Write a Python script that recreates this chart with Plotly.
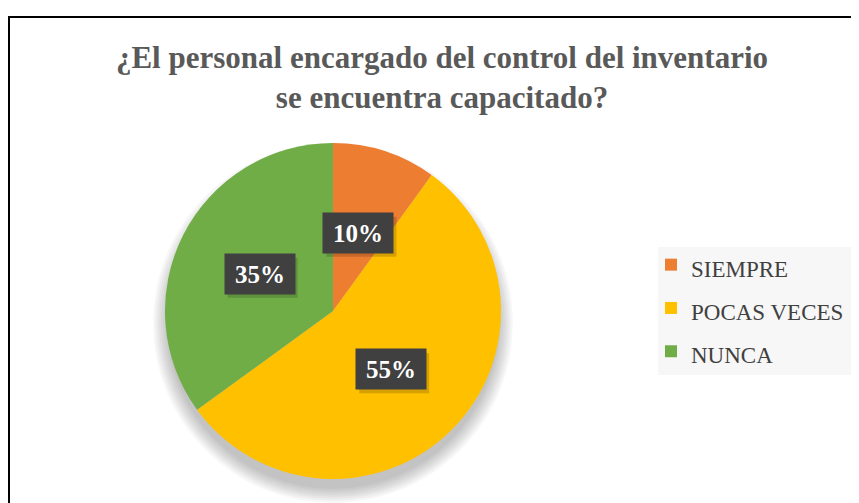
import math
import plotly.graph_objects as go

categories = ["SIEMPRE", "POCAS VECES", "NUNCA"]
values = [10, 55, 35]
colors = ["#ED7D31", "#FFC000", "#70AD47"]
title_lines = ["¿El personal encargado del control del inventario", "se encuentra capacitado?"]

SW, SH = 859, 503          # screenshot size
OFF = 8                    # page body margin
W, H = SW - OFF, SH - OFF  # figure size
cx, cy, R = 333, 311, 168  # pie centre / radius in screen pixels
SERIF = "Liberation Serif, Times New Roman, serif"


def px(x):
    return (x - OFF) / W


def py(y):
    return 1 - (y - OFF) / H


fig = go.Figure()
fig.add_trace(go.Pie(
    labels=[f'<span style="font-size:23px">{c}</span>' for c in categories],
    values=values,
    marker=dict(colors=colors, line=dict(width=0)),
    sort=False,
    direction="clockwise",
    rotation=0,
    textinfo="none",
    hoverinfo="label+percent",
    domain=dict(x=[px(cx - R), px(cx + R)], y=[py(cy + R), py(cy - R)]),
))

shapes = []
# soft shadow under the pie (mostly below)
for extra in range(16, 0, -2):
    r = R - 4 + extra
    oy = 12
    shapes.append(dict(type="circle", xref="paper", yref="paper", layer="below",
                       x0=px(cx - r), x1=px(cx + r), y0=py(cy + oy + r), y1=py(cy + oy - r),
                       fillcolor="rgba(0,0,0,0.03)", line=dict(width=0)))
# legend background box
shapes.append(dict(type="rect", xref="paper", yref="paper", layer="below",
                   x0=px(658), x1=px(857), y0=py(375), y1=py(247),
                   fillcolor="#F7F7F7", line=dict(width=0)))
# outer frame
shapes.append(dict(type="rect", xref="paper", yref="paper", layer="above",
                   x0=px(9), x1=1.05, y0=-0.05, y1=py(17),
                   line=dict(color="#000000", width=2), fillcolor="rgba(0,0,0,0)"))

annotations = []
total = sum(values)
cum = 0
rl = 0.49
bw, bh = 70, 40
for v in values:
    mid = (cum + v / 2) / total * 2 * math.pi
    cum += v
    lx = cx + rl * R * math.sin(mid)
    ly = cy - rl * R * math.cos(mid)
    txt = f"{round(v / total * 100)}%"
    # label shadow
    shapes.append(dict(type="rect", xref="paper", yref="paper", layer="above",
                       x0=px(lx - bw / 2 + 3), x1=px(lx + bw / 2 + 3),
                       y0=py(ly + bh / 2 + 4), y1=py(ly - bh / 2 + 4),
                       fillcolor="rgba(0,0,0,0.16)", line=dict(width=0)))
    annotations.append(dict(x=px(lx), y=py(ly), xref="paper", yref="paper",
                            xanchor="center", yanchor="middle",
                            text=f"<b>{txt}</b>", showarrow=False, width=bw - 10, height=bh - 10,
                            font=dict(family=SERIF, size=25, color="#FFFFFF"),
                            bgcolor="#404040", borderpad=5))

fig.update_layout(
    width=W, height=H,
    margin=dict(l=0, r=0, t=0, b=0),
    paper_bgcolor="#FFFFFF",
    plot_bgcolor="#FFFFFF",
    title=dict(text="<b>" + "<br>".join(title_lines) + "</b>",
               x=px(442), xanchor="center", y=py(68), yanchor="top",
               font=dict(family=SERIF, size=31, color="#595959")),
    showlegend=True,
    legend=dict(x=px(651), xanchor="left", y=py(238), yanchor="top",
                bgcolor="rgba(0,0,0,0)", borderwidth=0,
                font=dict(family=SERIF, size=31, color="#404040"),
                itemclick=False, itemdoubleclick=False),
    shapes=shapes,
    annotations=annotations,
)

fig.write_html("out.html")
